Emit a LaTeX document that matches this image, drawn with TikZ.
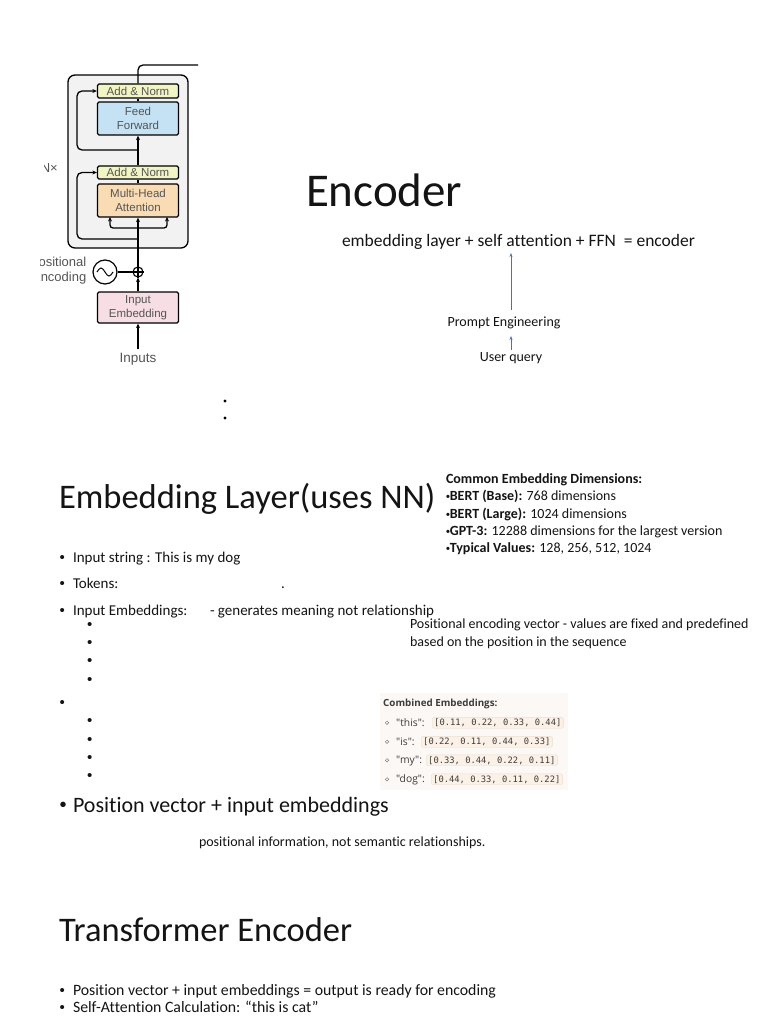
\documentclass[tikz,border=0pt]{standalone}
\usepackage{fontspec}
\setmainfont{Carlito}[Ligatures=NoCommon]
\newfontfamily\arialf{Liberation Sans}
\newfontfamily\monof{DejaVu Sans Mono}
\newfontfamily\opensans{Open Sans}
\usetikzlibrary{arrows.meta}
\newcommand{\myfs}[1]{\fontsize{#1}{#1}\selectfont}
\definecolor{boxgray}{RGB}{242,242,242}
\definecolor{addnorm}{RGB}{241,245,196}
\definecolor{ffblue}{RGB}{196,226,244}
\definecolor{mhaorange}{RGB}{250,220,180}
\definecolor{embpink}{RGB}{246,222,228}
\definecolor{labgray}{RGB}{85,85,85}
\definecolor{arrowblue}{RGB}{68,114,196}
\definecolor{codefill}{RGB}{252,241,231}
\definecolor{codeline}{RGB}{236,220,206}
\definecolor{panelbg}{RGB}{251,248,246}
\definecolor{codetext}{RGB}{60,60,60}
\definecolor{txtdark}{RGB}{20,20,20}
\begin{document}
\begin{tikzpicture}[x=1pt,y=-1pt,
  t/.style={anchor=base west, inner sep=0pt, outer sep=0pt, text=txtdark},
  blk/.style={draw, line width=1.3pt, rounded corners=1.5pt, minimum width=81pt, inner sep=0pt, align=center, text=labgray, font=\arialf\fontsize{11.5}{13.5}\selectfont},
  arr/.style={-{Stealth[length=4.5pt,width=4pt]}, line width=1.3pt},
  ln/.style={line width=1.3pt},
  barr/.style={-{Stealth[length=4pt,width=3pt]}, draw=arrowblue, line width=0.8pt},
  code/.style={anchor=west, draw=codeline, fill=codefill, rounded corners=1.5pt, inner xsep=2pt, inner ysep=1.5pt, font=\monof\myfs{8.8}, text=codetext},
  clab/.style={anchor=base west, inner sep=0pt, font=\opensans\myfs{10.3}, text=codetext},
  rb/.style={t, font=\myfs{14}},
  body/.style={t, font=\myfs{15}},
  bul/.style={t, font=\arialf\myfs{15}},
  big/.style={t, font=\myfs{34.5}},
]
\fill[white] (0,0) rectangle (768,1024);
\useasboundingbox (0,0) rectangle (768,1024);

% ---------------- transformer encoder figure ----------------
\node[draw, fill=boxgray, rounded corners=7pt, line width=1.3pt, minimum width=120pt, minimum height=173pt, inner sep=0pt] (encbox) at (128,161.5) {};

\node[blk, fill=addnorm, minimum height=14pt] (an1) at (138,91) {Add \& Norm};
\node[blk, fill=ffblue, minimum height=33pt] (ff) at (138,118.5) {Feed\\Forward};
\node[blk, fill=addnorm, minimum height=13pt] (an2) at (138,172.5) {Add \& Norm};
\node[blk, fill=mhaorange, minimum height=33pt] (mha) at (138,200.5) {Multi-Head\\Attention};
\node[blk, fill=embpink, minimum height=31pt] (emb) at (138,307.5) {Input\\Embedding};

\node[circle, draw, line width=1.2pt, minimum size=24pt, inner sep=0pt] (pe) at (105,272) {};
\draw[line width=1pt] ([xshift=-8pt]pe.center) sin ++(4,-4) cos ++(4,4) sin ++(4,4) cos ++(4,-4);
\node[circle, draw, line width=1.1pt, minimum size=10pt, inner sep=0pt] (add) at (138,272) {};
\draw[line width=1.1pt] (add.north) -- (add.south) (add.west) -- (add.east);
\draw[line width=1.1pt] (pe) -- (add);

\node[inner sep=0pt, text=labgray, font=\arialf\myfs{13.5}] (inp) at (138,359.5) {Inputs};

\draw[arr, shorten <=4pt] (inp.north) -- (emb.south);
\draw[arr] (emb.north) -- (add.south);
\draw[arr] (add.north) -- (mha.south);
\draw[ln] (mha.north) -- (an2.south);
\draw[arr] (an2.north) -- (ff.south);
\draw[ln] (ff.north) -- (an1.south);

\coordinate (topc) at (138,65);
\coordinate (tope) at (198,65);
\draw[ln, rounded corners=5pt] (an1.north) -- (topc) -- (tope);

\coordinate (split) at (138,228);
\coordinate (mhaL) at (110,217);
\coordinate (mhaR) at (167,217);
\draw[arr, rounded corners=3pt] (split) -| (mhaL);
\draw[arr, rounded corners=3pt] (split) -| (mhaR);

\coordinate (r1a) at (138,150);
\coordinate (r1b) at (77,150);
\draw[arr, rounded corners=5pt] (r1a) -- (r1b) |- (an1.west);
\coordinate (r2a) at (138,239);
\coordinate (r2b) at (77,239);
\draw[arr, rounded corners=5pt] (r2a) -- (r2b) |- (an2.west);

\begin{scope}
\clip (44,150) rectangle (70,190);
\node[anchor=east, inner sep=0pt, text=labgray, font=\arialf\myfs{13}] (nx) at (58,168) {N×};
\end{scope}
\begin{scope}
\clip (40,250) rectangle (92,292);
\node[anchor=east, inner sep=0pt, align=right, text=labgray, font=\arialf\fontsize{13}{15}\selectfont] (pelab) at (86.5,270.5) {Positional\\Encoding};
\end{scope}

% ---------------- Encoder title & formula ----------------
\node[t, font=\myfs{47}] (title) at (306,207) {Encoder};
\node[t, font=\myfs{17.5}] (formula) at (342,246) {embedding layer + self attention + FFN\ \ = encoder};
\node[anchor=base, inner sep=0pt, font=\myfs{14}, text=txtdark] (prompt) at (504,326) {Prompt Engineering};
\node[anchor=base, inner sep=0pt, font=\myfs{14}, text=txtdark] (uq) at (511,361) {User query};
\draw[barr] (uq.north -| 511,0) ++(0,-2) -- (511,336);
\draw[barr] (511,310) -- (511,253);

\fill (225,401) circle (1.6);
\fill (225,418) circle (1.6);

% ---------------- Embedding layer ----------------
\node[big] (embtitle) at (59,508) {Embedding Layer(uses NN)};

\node[rb] (r0) at (446,483.5) {\textbf{Common Embedding Dimensions:}};
\node[rb] (r1) at (446,500.8) {{\arialf\bfseries\myfs{11}•}\textbf{BERT (Base):} 768 dimensions};
\node[rb] (r2) at (446,518) {{\arialf\bfseries\myfs{11}•}\textbf{BERT (Large):} 1024 dimensions};
\node[rb] (r3) at (446,535.3) {{\arialf\bfseries\myfs{11}•}\textbf{GPT-3:} 12288 dimensions for the largest version};
\node[rb] (r4) at (446,552.5) {{\arialf\bfseries\myfs{11}•}\textbf{Typical Values:} 128, 256, 512, 1024};

\node[bul] (b1) at (59.5,562.7) {•};
\node[body] (l1) at (73,562.7) {Input string : This is my dog};
\node[bul] (b2) at (59.5,588.3) {•};
\node[body] (l2) at (73,588.3) {Tokens:};
\node[body] (l2dot) at (281,588.3) {.};
\node[bul] (b3) at (59.5,615) {•};
\node[body] (l3) at (73,615) {Input Embeddings:};
\node[body] (l3b) at (210,615) {- generates meaning not relationship};
\node[bul] (s1) at (87,629.5) {•};
\node[bul] (s2) at (87,647.5) {•};
\node[bul] (s3) at (87,665.5) {•};
\node[bul] (s4) at (87,684.5) {•};
\node[bul] (b4) at (59.5,707.5) {•};
\node[bul] (s5) at (87,725.5) {•};
\node[bul] (s6) at (87,744.5) {•};
\node[bul] (s7) at (87,762.5) {•};
\node[bul] (s8) at (87,780.5) {•};

\node[rb] (pv1) at (410,628.5) {Positional encoding vector - values are fixed and predefined};
\node[rb] (pv2) at (410,646.5) {based on the position in the sequence};

% combined embeddings panel
\fill[panelbg] (380,693) rectangle (568,790);
\node[anchor=base west, inner sep=0pt, font=\opensans\bfseries\myfs{9.8}, text=codetext] (cetitle) at (383,706.5) {Combined Embeddings:};
\foreach \yy/\lab/\xc/\val [count=\i] in {
  726/{"this":}/432/{[0.11, 0.22, 0.33, 0.44]},
  745/{"is":}/421/{[0.22, 0.11, 0.44, 0.33]},
  763.5/{"my":}/426/{[0.33, 0.44, 0.22, 0.11]},
  782.5/{"dog":}/431/{[0.44, 0.33, 0.11, 0.22]}}{
  \draw[gray, line width=0.5pt] (387,\yy-3.2) circle (1.7);
  \node[clab] (cl\i) at (396,\yy) {\lab};
  \node[code] (cv\i) at (\xc,\yy-3.2) {\val};
}

\node[t, font=\arialf\myfs{20}] (b5) at (59.5,811) {•};
\node[t, font=\myfs{22}] (pvi) at (73,812) {Position vector + input embeddings};
\node[rb] (posinfo) at (199,846.5) {positional information, not semantic relationships.};

% ---------------- Transformer Encoder ----------------
\node[big] (tetitle) at (59,941) {Transformer Encoder};
\node[bul] (b6) at (59.5,995) {•};
\node[t, font=\myfs{15.8}] (te1) at (73,995) {Position vector + input embeddings = output is ready for encoding};
\node[bul] (b7) at (59.5,1012) {•};
\node[t, font=\myfs{15.8}] (te2) at (73,1012) {Self-Attention Calculation: “this is cat”};
\end{tikzpicture}
\end{document}
